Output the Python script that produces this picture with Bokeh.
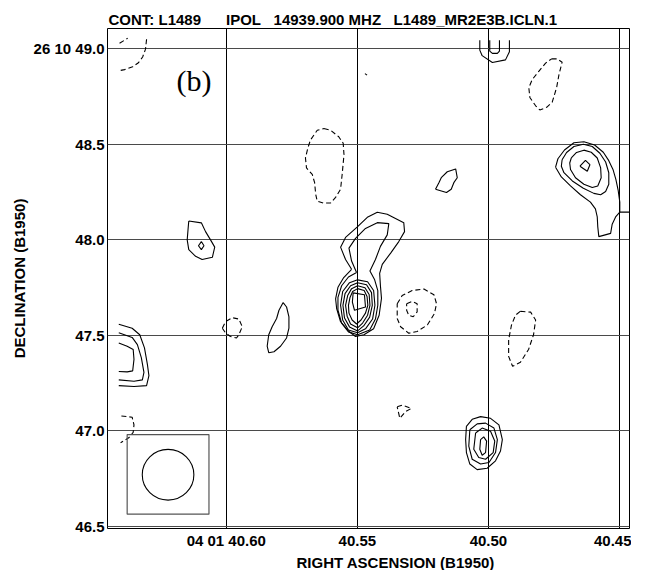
from bokeh.plotting import figure
from bokeh.models import Range1d, FixedTicker, Label, Title
from bokeh.embed import file_html
from bokeh.resources import INLINE
import math

# ---------------- axis ticks ----------------
ra_ticks = [40.60, 40.55, 40.50, 40.45]
ra_tick_labels = ["04 01 40.60", "40.55", "40.50", "40.45"]
dec_ticks = [49.0, 48.5, 48.0, 47.5, 47.0, 46.5]
dec_tick_labels = ["26 10 49.0", "48.5", "48.0", "47.5", "47.0", "46.5"]

ra_view = [40.6453, 40.4462]      # seconds of RA (04 01 ..), decreasing to the right
dec_view = [46.49, 49.104]        # arcsec of Dec (26 10 ..)

# ---------------- positive (solid) contours: RA [s], Dec [arcsec] ----------------
# central source (hook + core)
core_l1_ra = [40.5522, 40.5545, 40.5564, 40.5545, 40.5500, 40.5460, 40.5424, 40.5386, 40.5323, 40.5320, 40.5342, 40.5373, 40.5405, 40.5415, 40.5412, 40.5408, 40.5417, 40.5438, 40.5475, 40.5507, 40.5532, 40.5564, 40.5579, 40.5583, 40.5574, 40.5552]
core_l1_dec = [47.845, 47.896, 47.961, 48.012, 48.067, 48.119, 48.143, 48.133, 48.089, 48.042, 47.990, 47.930, 47.871, 47.824, 47.759, 47.693, 47.605, 47.534, 47.503, 47.494, 47.520, 47.571, 47.640, 47.691, 47.751, 47.802]
core_l2_ra = [40.5503, 40.5522, 40.5532, 40.5507, 40.5469, 40.5424, 40.5380, 40.5386, 40.5412, 40.5431, 40.5452, 40.5434, 40.5422, 40.5422, 40.5431, 40.5453, 40.5499, 40.5534, 40.5560, 40.5574, 40.5574, 40.5560, 40.5534]
core_l2_dec = [47.828, 47.888, 47.956, 48.007, 48.059, 48.089, 48.084, 48.025, 47.965, 47.896, 47.836, 47.790, 47.734, 47.657, 47.585, 47.528, 47.503, 47.518, 47.564, 47.631, 47.698, 47.759, 47.805]
core_l3_ra = [40.5499, 40.5461, 40.5438, 40.5433, 40.5442, 40.5469, 40.5499, 40.5534, 40.5556, 40.5564, 40.5556, 40.5530]
core_l3_dec = [47.790, 47.780, 47.734, 47.657, 47.585, 47.534, 47.513, 47.528, 47.580, 47.657, 47.729, 47.775]
core_l4_ra = [40.5499, 40.5465, 40.5446, 40.5443, 40.5453, 40.5476, 40.5499, 40.5530, 40.5549, 40.5555, 40.5547, 40.5526]
core_l4_dec = [47.775, 47.764, 47.723, 47.657, 47.595, 47.549, 47.523, 47.544, 47.590, 47.657, 47.718, 47.759]
core_l5_ra = [40.5499, 40.5471, 40.5455, 40.5452, 40.5461, 40.5480, 40.5499, 40.5526, 40.5539, 40.5545, 40.5537, 40.5522]
core_l5_dec = [47.759, 47.749, 47.713, 47.657, 47.605, 47.564, 47.539, 47.559, 47.600, 47.657, 47.708, 47.744]
core_l6_ra = [40.5499, 40.5474, 40.5463, 40.5460, 40.5469, 40.5486, 40.5503, 40.5520, 40.5532, 40.5534, 40.5528, 40.5518]
core_l6_dec = [47.744, 47.734, 47.703, 47.657, 47.616, 47.580, 47.559, 47.580, 47.616, 47.657, 47.698, 47.729]
core_l7_ra = [40.5516, 40.5473, 40.5469, 40.5511, 40.5519]
core_l7_dec = [47.722, 47.712, 47.648, 47.631, 47.674]

# north-east source
ne_c1_ra = [40.4744, 40.4735, 40.4710, 40.4674, 40.4636, 40.4595, 40.4562, 40.4541, 40.4525, 40.4514, 40.4505, 40.4499, 40.4499, 40.4515, 40.4528, 40.4534, 40.4579, 40.4583, 40.4585, 40.4592, 40.4611, 40.4649, 40.4687, 40.4722]
ne_c1_dec = [48.379, 48.423, 48.469, 48.507, 48.512, 48.495, 48.457, 48.413, 48.367, 48.315, 48.256, 48.196, 48.144, 48.119, 48.081, 48.033, 48.016, 48.067, 48.119, 48.161, 48.196, 48.235, 48.281, 48.328]
ne_tail_ra = [40.4499, 40.4445]
ne_tail_dec = [48.144, 48.144]
ne_c2_ra = [40.4719, 40.4702, 40.4674, 40.4638, 40.4604, 40.4575, 40.4553, 40.4541, 40.4541, 40.4553, 40.4572, 40.4598, 40.4638, 40.4680, 40.4712, 40.4722]
ne_c2_dec = [48.418, 48.456, 48.487, 48.499, 48.487, 48.452, 48.406, 48.350, 48.290, 48.252, 48.235, 48.242, 48.269, 48.307, 48.350, 48.384]
ne_c3_ra = [40.4684, 40.4664, 40.4636, 40.4608, 40.4585, 40.4572, 40.4570, 40.4583, 40.4604, 40.4636, 40.4668, 40.4687, 40.4690]
ne_c3_dec = [48.427, 48.456, 48.468, 48.457, 48.427, 48.375, 48.324, 48.281, 48.273, 48.290, 48.324, 48.367, 48.401]
ne_c4_ra = [40.4651, 40.4630, 40.4613, 40.4623]
ne_c4_dec = [48.384, 48.415, 48.392, 48.358]

# south source
s_c1_ra = [40.5084, 40.5062, 40.5030, 40.4992, 40.4960, 40.4947, 40.4954, 40.4973, 40.5005, 40.5043, 40.5071, 40.5084, 40.5087]
s_c1_dec = [47.024, 47.061, 47.075, 47.066, 47.032, 46.955, 46.895, 46.844, 46.805, 46.798, 46.827, 46.887, 46.955]
s_c2_ra = [40.5071, 40.5043, 40.5011, 40.4979, 40.4966, 40.4973, 40.4998, 40.5030, 40.5062, 40.5075]
s_c2_dec = [47.006, 47.037, 47.041, 47.015, 46.955, 46.887, 46.835, 46.827, 46.852, 46.921]
s_c3_ra = [40.5049, 40.5024, 40.4992, 40.4976, 40.4982, 40.5011, 40.5037, 40.5056]
s_c3_dec = [46.989, 47.015, 46.998, 46.947, 46.887, 46.852, 46.861, 46.904]
s_c4_ra = [40.5030, 40.5018, 40.5007, 40.5011, 40.5024, 40.5033]
s_c4_dec = [46.955, 46.969, 46.947, 46.887, 46.873, 46.904]

# west knot
w_c1_ra = [40.6143, 40.6095, 40.6079, 40.6060, 40.6044, 40.6053, 40.6092, 40.6117, 40.6143, 40.6149, 40.6146]
w_c1_dec = [48.098, 48.088, 48.042, 47.999, 47.961, 47.908, 47.896, 47.913, 47.948, 47.999, 48.050]
w_c2_ra = [40.6095, 40.6085, 40.6095, 40.6106]
w_c2_dec = [47.990, 47.968, 47.948, 47.968]

# small positive blobs
blob_a_ra = [40.5202, 40.5189, 40.5180, 40.5157, 40.5125, 40.5119, 40.5132, 40.5142, 40.5160]
blob_a_dec = [48.264, 48.298, 48.324, 48.355, 48.370, 48.324, 48.298, 48.264, 48.247]
blob_b_ra = [40.5783, 40.5770, 40.5761, 40.5761, 40.5770, 40.5793, 40.5818, 40.5838, 40.5844, 40.5838, 40.5825, 40.5808, 40.5799]
blob_b_dec = [47.671, 47.648, 47.597, 47.537, 47.486, 47.443, 47.414, 47.409, 47.443, 47.503, 47.545, 47.588, 47.631]
blob_c_ra = [40.5471, 40.5463]
blob_c_dec = [48.868, 48.860]

# open contours cut by the map edges
top_u1_ra = [40.5033, 40.5033, 40.5024, 40.4985, 40.4935, 40.4920, 40.4920]
top_u1_dec = [49.043, 48.991, 48.962, 48.926, 48.940, 48.983, 49.043]
top_u2_ra = [40.4995, 40.4995, 40.4985, 40.4966, 40.4958, 40.4958]
top_u2_dec = [49.043, 48.986, 48.974, 48.974, 48.986, 49.043]
edge_o1_ra = [40.6410, 40.6359, 40.6330, 40.6312, 40.6301, 40.6295, 40.6304, 40.6352, 40.6410]
edge_o1_dec = [47.558, 47.537, 47.503, 47.434, 47.349, 47.289, 47.237, 47.232, 47.237]
edge_o2_ra = [40.6410, 40.6359, 40.6339, 40.6324, 40.6314, 40.6320, 40.6352, 40.6410]
edge_o2_dec = [47.513, 47.489, 47.451, 47.383, 47.306, 47.267, 47.260, 47.267]
edge_o3_ra = [40.6410, 40.6378, 40.6355, 40.6352, 40.6357, 40.6378, 40.6410]
edge_o3_dec = [47.460, 47.443, 47.426, 47.374, 47.314, 47.309, 47.311]

# ---------------- negative (dashed) contours ----------------
neg_a_ra = [40.4759, 40.4738, 40.4719, 40.4731, 40.4740, 40.4757, 40.4778, 40.4804, 40.4820, 40.4842, 40.4846, 40.4833, 40.4808, 40.4782]
neg_a_dec = [48.945, 48.945, 48.928, 48.863, 48.795, 48.718, 48.692, 48.678, 48.700, 48.743, 48.795, 48.837, 48.880, 48.923]
neg_b_ra = [40.5628, 40.5602, 40.5571, 40.5554, 40.5551, 40.5558, 40.5564, 40.5583, 40.5602, 40.5628, 40.5653, 40.5659, 40.5663, 40.5672, 40.5694, 40.5698, 40.5689, 40.5679, 40.5653]
neg_b_dec = [48.581, 48.572, 48.538, 48.504, 48.444, 48.341, 48.264, 48.221, 48.192, 48.191, 48.201, 48.238, 48.298, 48.341, 48.375, 48.427, 48.478, 48.521, 48.572]
neg_c1_ra = [40.5348, 40.5329, 40.5291, 40.5246, 40.5208, 40.5198, 40.5206, 40.5233, 40.5272, 40.5304, 40.5335, 40.5348]
neg_c1_dec = [47.665, 47.708, 47.734, 47.742, 47.712, 47.665, 47.614, 47.554, 47.520, 47.511, 47.545, 47.588]
neg_c2_ra = [40.5312, 40.5291, 40.5272, 40.5272, 40.5287, 40.5304, 40.5312]
neg_c2_dec = [47.665, 47.677, 47.665, 47.622, 47.597, 47.605, 47.631]
neg_d_ra = [40.4878, 40.4839, 40.4820, 40.4828, 40.4847, 40.4878, 40.4908, 40.4923, 40.4923, 40.4912, 40.4897]
neg_d_dec = [47.626, 47.621, 47.580, 47.503, 47.426, 47.359, 47.338, 47.390, 47.477, 47.554, 47.605]
neg_e_ra = [40.6015, 40.6003, 40.5977, 40.5952, 40.5939, 40.5952, 40.5961, 40.5984, 40.6003]
neg_e_dec = [47.537, 47.571, 47.592, 47.585, 47.545, 47.503, 47.486, 47.494, 47.513]
neg_f_ra = [40.5348, 40.5329, 40.5294, 40.5316, 40.5338]
neg_f_dec = [47.126, 47.135, 47.118, 47.101, 47.066]
neg_g_ra = [40.6400, 40.6359, 40.6352, 40.6355, 40.6372, 40.6403]
neg_g_dec = [47.078, 47.072, 47.032, 46.993, 46.964, 46.938]
neg_h1_ra = [40.6407, 40.6376]
neg_h1_dec = [49.027, 49.053]
neg_h2_ra = [40.6304, 40.6308, 40.6319, 40.6335, 40.6357, 40.6388, 40.6411]
neg_h2_dec = [49.048, 48.996, 48.955, 48.925, 48.904, 48.889, 48.883]

# ---------------- restoring beam ----------------
beam_box_ra = [40.6378, 40.6066]
beam_box_dec = [46.981, 46.565]
beam_center_ra = 40.6222
beam_center_dec = 46.771
beam_fwhm_arcsec = 0.265
field_dec_deg = 26.18

title_text = "CONT: L1489\u00a0\u00a0\u00a0\u00a0\u00a0\u00a0IPOL\u00a0\u00a0\u00a014939.900 MHZ\u00a0\u00a0\u00a0L1489_MR2E3B.ICLN.1"
panel_label = "(b)"


def closed(xs, ys):
    return list(xs) + [xs[0]], list(ys) + [ys[0]]


pos_closed = [
    (core_l1_ra, core_l1_dec), (core_l2_ra, core_l2_dec), (core_l3_ra, core_l3_dec),
    (core_l4_ra, core_l4_dec), (core_l5_ra, core_l5_dec), (core_l6_ra, core_l6_dec),
    (core_l7_ra, core_l7_dec),
    (ne_c1_ra, ne_c1_dec), (ne_c2_ra, ne_c2_dec), (ne_c3_ra, ne_c3_dec), (ne_c4_ra, ne_c4_dec),
    (s_c1_ra, s_c1_dec), (s_c2_ra, s_c2_dec), (s_c3_ra, s_c3_dec), (s_c4_ra, s_c4_dec),
    (w_c1_ra, w_c1_dec), (w_c2_ra, w_c2_dec),
    (blob_a_ra, blob_a_dec), (blob_b_ra, blob_b_dec),
]
pos_open = [
    (ne_tail_ra, ne_tail_dec), (blob_c_ra, blob_c_dec),
    (top_u1_ra, top_u1_dec), (top_u2_ra, top_u2_dec),
    (edge_o1_ra, edge_o1_dec), (edge_o2_ra, edge_o2_dec), (edge_o3_ra, edge_o3_dec),
]
neg_closed = [
    (neg_a_ra, neg_a_dec), (neg_b_ra, neg_b_dec), (neg_c1_ra, neg_c1_dec),
    (neg_c2_ra, neg_c2_dec), (neg_d_ra, neg_d_dec), (neg_e_ra, neg_e_dec), (neg_f_ra, neg_f_dec),
]
neg_open = [(neg_g_ra, neg_g_dec), (neg_h1_ra, neg_h1_dec), (neg_h2_ra, neg_h2_dec)]

pos_xs, pos_ys = [], []
for xs, ys in pos_closed:
    cx, cy = closed(xs, ys)
    pos_xs.append(cx); pos_ys.append(cy)
for xs, ys in pos_open:
    pos_xs.append(list(xs)); pos_ys.append(list(ys))

neg_xs, neg_ys = [], []
for xs, ys in neg_closed:
    cx, cy = closed(xs, ys)
    neg_xs.append(cx); neg_ys.append(cy)
for xs, ys in neg_open:
    neg_xs.append(list(xs)); neg_ys.append(list(ys))

FONT = "Liberation Sans"

p = figure(width=631, height=570,
           x_range=Range1d(ra_view[0], ra_view[1]),
           y_range=Range1d(dec_view[0], dec_view[1]),
           output_backend="svg", toolbar_location=None,
           min_border_left=107, min_border_right=2, min_border_top=28, min_border_bottom=42,
           title=title_text)

p.background_fill_color = "white"
p.border_fill_color = "white"
p.outline_line_color = "black"
p.outline_line_width = 1

p.title.text_font = FONT
p.title.text_font_size = "15px"
p.title.text_font_style = "bold"
p.title.align = "left"
p.title.offset = 1
p.title.standoff = 2
p.title.text_color = "black"

# axes
p.xaxis.ticker = FixedTicker(ticks=ra_ticks)
p.yaxis.ticker = FixedTicker(ticks=dec_ticks)
p.xaxis.major_label_overrides = dict(zip(ra_ticks, ra_tick_labels))
p.yaxis.major_label_overrides = dict(zip(dec_ticks, dec_tick_labels))
for ax in (p.xaxis[0], p.yaxis[0]):
    ax.axis_line_color = None
    ax.major_tick_line_color = None
    ax.minor_tick_line_color = None
    ax.major_tick_out = 0
    ax.major_tick_in = 0
    ax.minor_tick_out = 0
    ax.minor_tick_in = 0
    ax.major_label_text_font = FONT
    ax.major_label_text_font_size = "15px"
    ax.major_label_text_font_style = "bold"
    ax.major_label_text_color = "black"
    ax.axis_label_text_font = FONT
    ax.axis_label_text_font_size = "15px"
    ax.axis_label_text_font_style = "bold"
    ax.axis_label_text_color = "black"
p.xaxis.major_label_standoff = 3
p.yaxis.major_label_standoff = 3
p.yaxis.axis_label = "DECLINATION (B1950)"
p.yaxis.axis_label_standoff = 3

xlabel = Title(text="RIGHT ASCENSION (B1950)", align="left", offset=189,
               text_font=FONT, text_font_size="15px", text_font_style="bold",
               text_color="black", standoff=0)
p.add_layout(xlabel, "below")

# grid
p.xgrid.grid_line_color = "black"
p.xgrid.grid_line_width = 1
p.ygrid.grid_line_color = "#4a4a4a"
p.ygrid.grid_line_width = 1

# contours
p.multi_line(xs=pos_xs, ys=pos_ys, line_color="black", line_width=1.1)
p.multi_line(xs=neg_xs, ys=neg_ys, line_color="black", line_width=1.1, line_dash="5 3")

# beam
beam_w_ra = beam_fwhm_arcsec / (15.0 * math.cos(math.radians(field_dec_deg)))
p.quad(left=[beam_box_ra[0]], right=[beam_box_ra[1]], top=[beam_box_dec[0]], bottom=[beam_box_dec[1]],
       fill_color=None, line_color="#555555", line_width=1.2)
p.ellipse(x=[beam_center_ra], y=[beam_center_dec], width=[beam_w_ra], height=[beam_fwhm_arcsec],
          fill_color=None, line_color="black", line_width=1.1)

# panel label
p.add_layout(Label(x=40.6190, y=48.83, text=panel_label, text_font="Liberation Serif",
                   text_font_size="30px", text_align="left", text_baseline="alphabetic",
                   text_color="black"))

open("out.html", "w").write(file_html(p, INLINE))
